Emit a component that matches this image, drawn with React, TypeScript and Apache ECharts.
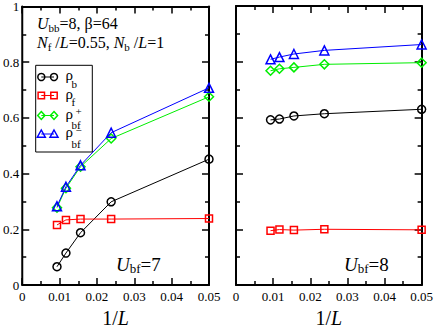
import React, { useEffect, useRef } from "react";
import * as echarts from "echarts";

const FONT = "Liberation Serif, Times New Roman, serif";

// 1/L values
const xVals = [0.0093, 0.0117, 0.0156, 0.0238, 0.05];
const xTicks = [0, 0.01, 0.02, 0.03, 0.04, 0.05];
const yTicks = [0, 0.2, 0.4, 0.6, 0.8, 1];

// U_bf = 7
const rhoB7 = [0.066, 0.115, 0.188, 0.299, 0.452];
const rhoF7 = [0.216, 0.234, 0.237, 0.237, 0.239];
const rhoBfP7 = [0.278, 0.348, 0.425, 0.526, 0.676];
const rhoBfM7 = [0.283, 0.353, 0.43, 0.547, 0.708];

// U_bf = 8
const rhoB8 = [0.592, 0.595, 0.606, 0.614, 0.63];
const rhoF8 = [0.195, 0.199, 0.197, 0.2, 0.198];
const rhoBfP8 = [0.768, 0.775, 0.78, 0.791, 0.797];
const rhoBfM8 = [0.809, 0.817, 0.828, 0.841, 0.862];

const seriesDefs = [
  { name: "ρb", color: "#000000", symbol: "circle", size: 8 },
  { name: "ρf", color: "#ff0000", symbol: "rect", size: 7 },
  { name: "ρbf+", color: "#00ee00", symbol: "diamond", size: 9 },
  { name: "ρbf-", color: "#0000ff", symbol: "triangle", size: 9 },
];

const panel7 = [rhoB7, rhoF7, rhoBfP7, rhoBfM7];
const panel8 = [rhoB8, rhoF8, rhoBfP8, rhoBfM8];

function xAxis(gridIndex: number, position: string, labels: boolean) {
  return {
    type: "value",
    gridIndex,
    position,
    min: xTicks[0],
    max: xTicks[xTicks.length - 1],
    interval: xTicks[1] - xTicks[0],
    axisLine: { show: true, onZero: false, lineStyle: { color: "#000", width: 2 } },
    axisTick: { show: true, inside: true, length: 7, lineStyle: { color: "#000", width: 1.5 } },
    minorTick: { show: true, splitNumber: 2, length: 4, lineStyle: { color: "#000", width: 1.5 } },
    splitLine: { show: false },
    axisLabel: {
      show: labels,
      color: "#000",
      fontFamily: FONT,
      fontSize: 13,
      margin: 5,
      formatter: (v: number) => (v === 0 ? "0" : String(Math.round(v * 100) / 100)),
    },
    name: labels ? "1/{i|L}" : "",
    nameLocation: "middle",
    nameGap: 19,
    nameTextStyle: {
      color: "#000",
      fontFamily: FONT,
      fontSize: 20,
      rich: { i: { fontStyle: "italic", fontFamily: FONT, fontSize: 20, color: "#000" } },
    },
  };
}

function yAxis(gridIndex: number, position: string, labels: boolean) {
  return {
    type: "value",
    gridIndex,
    position,
    min: yTicks[0],
    max: yTicks[yTicks.length - 1],
    interval: yTicks[1] - yTicks[0],
    axisLine: { show: true, onZero: false, lineStyle: { color: "#000", width: 2 } },
    axisTick: { show: true, inside: true, length: 7, lineStyle: { color: "#000", width: 1.5 } },
    minorTick: { show: true, splitNumber: 2, length: 4, lineStyle: { color: "#000", width: 1.5 } },
    splitLine: { show: false },
    axisLabel: {
      show: labels,
      color: "#000",
      fontFamily: FONT,
      fontSize: 13,
      margin: 3,
      formatter: (v: number) => (v === 0 ? "0" : v === 1 ? "1" : String(Math.round(v * 10) / 10)),
    },
  };
}

function makeSeries(panel: number[][], gi: number) {
  return seriesDefs.map((d, k) => ({
    type: "line",
    name: d.name + (gi === 0 ? "" : " "),
    xAxisIndex: gi * 2,
    yAxisIndex: gi * 2,
    data: xVals.map((x, i) => [x, panel[k][i]]),
    symbol: d.symbol,
    symbolSize: d.size,
    showAllSymbol: true,
    lineStyle: { color: d.color, width: 1 },
    itemStyle: { color: "rgba(0,0,0,0)", borderColor: d.color, borderWidth: 1.5 },
    emphasis: { disabled: true },
    z: 2 + k,
  }));
}

function legendGraphics() {
  const rowsY = [77, 95.5, 115.5, 134];
  const x1 = 41.3;
  const x2 = 54;
  const els: any[] = [
    {
      type: "rect",
      shape: { x: 35.7, y: 65.3, width: 56.6, height: 86.7 },
      style: { fill: "#fff", stroke: "#000", lineWidth: 1 },
      z: 100,
    },
  ];
  const symbolEl = (kind: string, cx: number, cy: number, color: string) => {
    const st = { fill: "none", stroke: color, lineWidth: 1.5 };
    if (kind === "circle") return { type: "circle", shape: { cx, cy, r: 3.5 }, style: st, z: 102 };
    if (kind === "rect")
      return { type: "rect", shape: { x: cx - 3.2, y: cy - 3.2, width: 6.4, height: 6.4 }, style: st, z: 102 };
    if (kind === "diamond")
      return {
        type: "polygon",
        shape: { points: [[cx, cy - 4], [cx + 3.6, cy], [cx, cy + 4], [cx - 3.6, cy]] },
        style: st,
        z: 102,
      };
    return {
      type: "polygon",
      shape: { points: [[cx, cy - 4], [cx + 4, cy + 3.2], [cx - 4, cy + 3.2]] },
      style: st,
      z: 102,
    };
  };
  const subs = ["b", "f", "bf", "bf"];
  const subDy = [6.5, 6.5, 9.5, 10];
  const sups = ["", "", "+", "−"];
  const supDy = [0, 0, -5, -4.5];
  seriesDefs.forEach((d, k) => {
    const y = rowsY[k];
    els.push({
      type: "line",
      shape: { x1, y1: y, x2, y2: y },
      style: { stroke: d.color, lineWidth: 1 },
      z: 101,
    });
    els.push(symbolEl(d.symbol, x1, y, d.color));
    els.push(symbolEl(d.symbol, x2, y, d.color));
    els.push({
      type: "text",
      x: 65.5,
      y: y - 2,
      style: {
        text: "ρ",
        fontFamily: FONT,
        fontSize: 15,
        lineHeight: 12,
        fill: "#000",
        textVerticalAlign: "middle",
      },
      z: 103,
    });
    els.push({
      type: "text",
      x: 71.5,
      y: y + subDy[k],
      style: {
        text: subs[k],
        fontFamily: FONT,
        fontSize: 11,
        lineHeight: 6,
        fill: "#000",
        textVerticalAlign: "middle",
      },
      z: 103,
    });
    if (sups[k])
      els.push({
        type: "text",
        x: 75.5,
        y: y + supDy[k],
        style: {
          text: sups[k],
          fontFamily: FONT,
          fontSize: 11,
          lineHeight: 4,
          fill: "#000",
          textVerticalAlign: "middle",
        },
        z: 103,
      });
  });
  return els;
}

const richBase = (big: number, small: number, lh: number) => ({
  i: { fontStyle: "italic", fontFamily: FONT, fontSize: big, lineHeight: lh, color: "#000" },
  n: { fontFamily: FONT, fontSize: big, lineHeight: lh, color: "#000" },
  s: { fontFamily: FONT, fontSize: small, lineHeight: 7, verticalAlign: "bottom", color: "#000" },
});

export default function App() {
  const ref = useRef<HTMLDivElement>(null);
  useEffect(() => {
    if (!ref.current) return;
    const chart = echarts.init(ref.current, undefined, { renderer: "svg" });
    const option: any = {
      animation: false,
      backgroundColor: "#fff",
      textStyle: { fontFamily: FONT },
      grid: [
        { left: 21, top: 6, right: 227, bottom: 37, containLabel: false },
        { left: 236, top: 6, right: 12, bottom: 37, containLabel: false },
      ],
      xAxis: [xAxis(0, "bottom", true), xAxis(0, "top", false), xAxis(1, "bottom", true), xAxis(1, "top", false)],
      yAxis: [yAxis(0, "left", true), yAxis(0, "right", false), yAxis(1, "left", false), yAxis(1, "right", false)],
      series: [...makeSeries(panel7, 0), ...makeSeries(panel8, 1)],
      graphic: [
        {
          type: "text",
          x: 37,
          y: 23.5,
          style: {
            text: "{i|U}{s|bb}{n|=8, β=64}",
            rich: richBase(16, 11, 19),
            fontFamily: FONT,
            textVerticalAlign: "middle",
          },
          z: 50,
        },
        {
          type: "text",
          x: 37,
          y: 42.5,
          style: {
            text: "{i|N}{s|f}{n| /}{i|L}{n|=0.55, }{i|N}{s|b}{n| /}{i|L}{n|=1}",
            rich: richBase(16, 11, 19),
            fontFamily: FONT,
            textVerticalAlign: "middle",
          },
          z: 50,
        },
        {
          type: "text",
          x: 116,
          y: 264,
          style: {
            text: "{i|U}{s|bf}{n|=7}",
            rich: richBase(19, 13, 22),
            fontFamily: FONT,
            textVerticalAlign: "middle",
          },
          z: 50,
        },
        {
          type: "text",
          x: 344,
          y: 264,
          style: {
            text: "{i|U}{s|bf}{n|=8}",
            rich: richBase(19, 13, 22),
            fontFamily: FONT,
            textVerticalAlign: "middle",
          },
          z: 50,
        },
        ...legendGraphics(),
      ],
    };
    chart.setOption(option);
    return () => chart.dispose();
  }, []);
  return (
    <div
      ref={ref}
      style={{ position: "absolute", left: 0, top: 0, width: 436, height: 333, background: "#fff" }}
    />
  );
}
